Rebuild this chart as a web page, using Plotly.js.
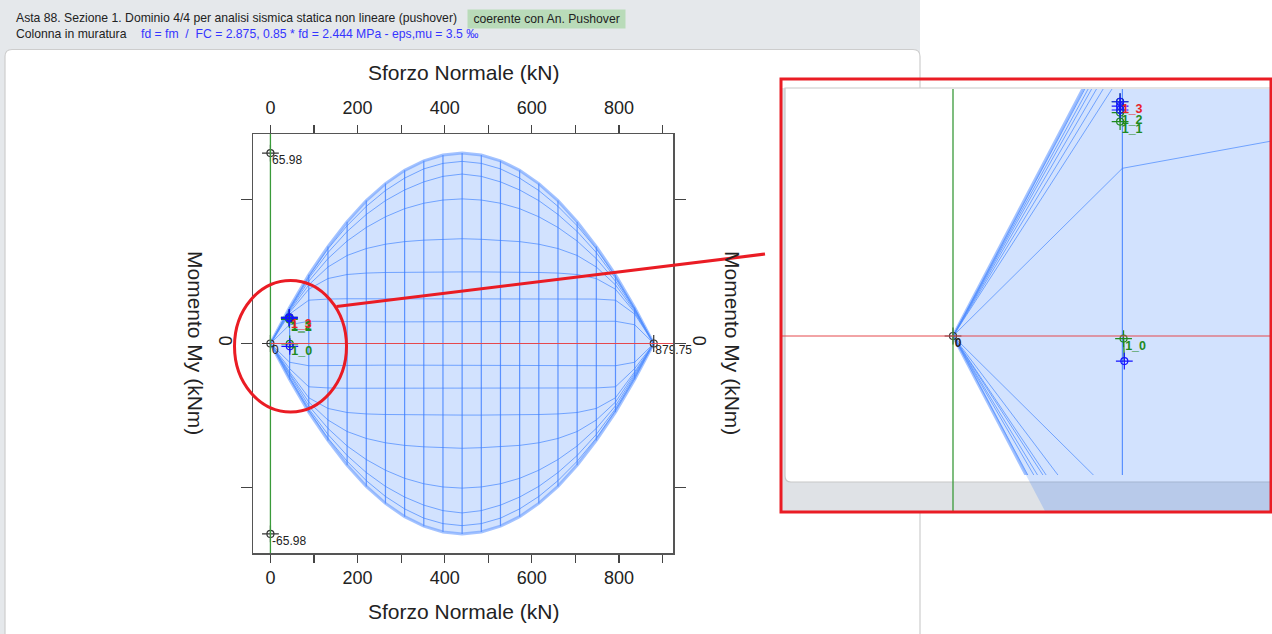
<!DOCTYPE html>
<html><head><meta charset="utf-8">
<script src="https://cdn.plot.ly/plotly-3.0.1.min.js"></script>
<style>html,body{margin:0;padding:0;background:#fff;overflow:hidden}#chart{width:1272px;height:634px}</style>
</head><body><div id="chart"></div>
<script>
// ---------------- DATA ----------------
const Nstations = [0,44,88,132,176,220,264,308,352,396,440,484,528,572,616,660,704,748,792,836,879.75];
// upper curves of the domain (My, kNm) at each station
const myUp1 = [0,12.5,23.8,33.6,42.2,49.5,55.4,60.0,63.3,65.3,65.98,65.3,63.3,60.0,55.4,49.5,42.2,33.6,23.8,12.5,0];
const myUp2 = [0,12.3,23.3,32.8,40.8,47.5,53.0,57.3,60.5,62.4,63.1,62.4,60.5,57.3,53.0,47.5,40.8,32.8,23.3,12.3,0];
const myUp3 = [0,12.0,22.6,31.5,38.8,44.7,49.5,53.2,56.0,57.9,58.7,57.9,56.0,53.2,49.5,44.7,38.8,31.5,22.6,12.0,0];
const myUp4 = [0,11.7,21.6,29.4,35.5,40.2,43.9,46.7,48.6,49.7,50.1,49.7,48.6,46.7,43.9,40.2,35.5,29.4,21.6,11.7,0];
const myUp5 = [0,11.3,20.3,26.5,30.5,32.9,34.4,35.3,35.8,36.1,36.3,36.1,35.8,35.3,34.4,32.9,30.5,26.5,20.3,11.3,0];
const myUp6 = [0,10.8,18.8,22.5,23.9,24.4,24.6,24.7,24.8,24.8,24.8,24.8,24.8,24.7,24.6,24.4,23.9,22.5,18.8,10.8,0];
const myUp7 = [0,10.2,15.0,15.4,15.5,15.5,15.5,15.5,15.5,15.5,15.5,15.5,15.5,15.5,15.5,15.5,15.5,15.4,15.0,10.2,0];
const myUp8 = [0,6.5,7.7,7.6,7.5,7.5,7.5,7.5,7.5,7.5,7.5,7.5,7.5,7.5,7.5,7.5,7.5,7.6,7.7,6.5,0];
// lower curves
const myLo1 = [0,-12.5,-23.8,-33.6,-42.2,-49.5,-55.4,-60.0,-63.3,-65.3,-65.98,-65.3,-63.3,-60.0,-55.4,-49.5,-42.2,-33.6,-23.8,-12.5,0];
const myLo2 = [0,-12.2,-23.3,-32.8,-40.8,-47.5,-53.0,-57.3,-60.5,-62.4,-63.1,-62.4,-60.5,-57.3,-53.0,-47.5,-40.8,-32.8,-23.3,-12.2,0];
const myLo3 = [0,-11.6,-22.6,-31.5,-38.8,-44.7,-49.5,-53.2,-56.0,-57.9,-58.7,-57.9,-56.0,-53.2,-49.5,-44.7,-38.8,-31.5,-22.6,-11.6,0];
const myLo4 = [0,-11.0,-21.6,-29.4,-35.5,-40.2,-43.9,-46.7,-48.6,-49.7,-50.1,-49.7,-48.6,-46.7,-43.9,-40.2,-35.5,-29.4,-21.6,-11.0,0];
const myLo5 = [0,-10.4,-20.3,-26.5,-30.5,-32.9,-34.4,-35.3,-35.8,-36.1,-36.3,-36.1,-35.8,-35.3,-34.4,-32.9,-30.5,-26.5,-20.3,-10.4,0];
const myLo6 = [0,-9.8,-18.8,-22.5,-23.9,-24.4,-24.6,-24.7,-24.8,-24.8,-24.8,-24.8,-24.8,-24.7,-24.6,-24.4,-23.9,-22.5,-18.8,-9.8,0];
const myLo7 = [0,-8.7,-15.0,-15.4,-15.5,-15.5,-15.5,-15.5,-15.5,-15.5,-15.5,-15.5,-15.5,-15.5,-15.5,-15.5,-15.5,-15.4,-15.0,-8.7,0];
const myLo8 = [0,-6.5,-7.7,-7.6,-7.5,-7.5,-7.5,-7.5,-7.5,-7.5,-7.5,-7.5,-7.5,-7.5,-7.5,-7.5,-7.5,-7.6,-7.7,-6.5,0];
// reference points
const refNames = ['65.98','-65.98','0','879.75'];
const refN = [0,0,0,879.75];
const refM = [65.98,-65.98,0,0];
// check points (green = capacity, blue = demand)
const chkNames = ['1_0','1_1','1_2','1_3'];
const chkLabelColors = ['#1f8a1f','#1f8a1f','#1f8a1f','#e8222a'];
const chkN = [44.3,43.4,43.4,43.4];
const chkM = [-0.1,8.31,8.66,9.08];
const demN = [44.5,43.4,43.4,43.4];
const demM = [-0.97,8.76,8.91,9.08];
// axis ticks
const xTickVals = [0,100,200,300,400,500,600,700,800,900];
const xTickText = ['0','','200','','400','','600','','800',''];
const yTickVals = [-50,0,50];
const yTickText = ['','0',''];

// ---------------- LAYOUT HELPERS ----------------
const W=1272,H=634;
const fx=p=>p/W, fy=p=>1-p/H;
const FONT='Liberation Sans, Arial, Helvetica, sans-serif';
const upCurves=[myUp2,myUp3,myUp4,myUp5,myUp6,myUp7,myUp8];
const loCurves=[myLo2,myLo3,myLo4,myLo5,myLo6,myLo7,myLo8];

function meshLines(xa,ya,lw){
  const xs=[],ys=[];
  upCurves.concat(loCurves).forEach(c=>{Nstations.forEach((n,i)=>{xs.push(n);ys.push(c[i]);});xs.push(null);ys.push(null);});
  const vx=[],vy=[];
  for(let i=1;i<Nstations.length-1;i++){vx.push(Nstations[i],Nstations[i],null);vy.push(myUp1[i],myLo1[i],null);}
  return [
    {x:xs,y:ys,xaxis:xa,yaxis:ya,mode:'lines',line:{color:'rgba(70,135,255,0.7)',width:lw},hoverinfo:'skip',showlegend:false},
    {x:vx,y:vy,xaxis:xa,yaxis:ya,mode:'lines',line:{color:'rgba(60,125,255,0.8)',width:lw*1.2},hoverinfo:'skip',showlegend:false},
    {x:Nstations.concat([null]).concat(Nstations),y:myUp1.concat([null]).concat(myLo1),xaxis:xa,yaxis:ya,mode:'lines',line:{color:'rgba(90,145,255,0.55)',width:3},hoverinfo:'skip',showlegend:false}
  ];
}
function meshFill(xa,ya){
  return {x:Nstations.concat(Nstations.slice().reverse()),y:myUp1.concat(myLo1.slice().reverse()),xaxis:xa,yaxis:ya,
    mode:'lines',fill:'toself',fillcolor:'rgba(30,110,250,0.2)',line:{width:0,color:'rgba(0,0,0,0)'},hoverinfo:'skip',showlegend:false};
}
function crossMarkers(xa,ya,xs,ys,color){
  return [
    {x:xs,y:ys,xaxis:xa,yaxis:ya,mode:'markers',cliponaxis:false,marker:{symbol:'cross-thin-open',size:12,color:color,line:{color:color,width:1.2}},hoverinfo:'skip',showlegend:false},
    {x:xs,y:ys,xaxis:xa,yaxis:ya,mode:'markers',cliponaxis:false,marker:{symbol:'circle-open',size:7,color:color,line:{color:color,width:1.2}},hoverinfo:'skip',showlegend:false}
  ];
}
function labels(xa,ya,xs,ys,texts,colors,bold,size){
  return {x:xs,y:ys,xaxis:xa,yaxis:ya,mode:'markers+text',cliponaxis:false,
    text:texts.map(t=>bold?'<b>'+t+'</b>':t),textposition:'bottom right',
    textfont:{family:FONT,size:size,color:colors},marker:{size:1,opacity:0},hoverinfo:'skip',showlegend:false};
}
function pointSet(xa,ya){
  const lx=[],ly=[];
  for(let i=0;i<chkN.length;i++){lx.push(chkN[i],demN[i],null);ly.push(chkM[i],demM[i],null);}
  return [
    {x:lx,y:ly,xaxis:xa,yaxis:ya,mode:'lines',line:{color:'#1f8a1f',width:1.3},hoverinfo:'skip',showlegend:false},
    ...crossMarkers(xa,ya,chkN,chkM,'#1f8a1f'),
    ...crossMarkers(xa,ya,demN,demM,'#1515ff'),
    labels(xa,ya,chkN,chkM,chkNames,chkLabelColors,true,12.5)
  ];
}

const traces=[];
// main
traces.push(meshFill('x','y'));
traces.push(...meshLines('x','y',1));
traces.push(...crossMarkers('x','y',refN,refM,'#333'));
traces.push(labels('x','y',refN,refM,refNames,'#222',false,12));
traces.push(...pointSet('x','y'));
// inset
traces.push(meshFill('x3','y3'));
traces.push(...meshLines('x4','y4',1));
traces.push(...crossMarkers('x4','y4',[refN[2]],[refM[2]],'#333'));
traces.push(labels('x4','y4',[refN[2]],[refM[2]],[refNames[2]],'#222',true,12));
traces.push(...pointSet('x4','y4'));

// scales
const mainX=[-40,924], mainY=[-72.58,72.58];
const inOx=953, inOy=336, inSx=3.85, inSy=25.8;
const inX=[(782-inOx)/inSx,(1272-inOx)/inSx];
const inY3=[(inOy-511)/inSy,(inOy-89)/inSy];
const inY4=[(inOy-475)/inSy,(inOy-89)/inSy];

const axCommon={showgrid:false,zeroline:false,showline:true,linecolor:'#555',linewidth:1.5,ticks:'outside',tickcolor:'#444',tickwidth:1.2,
  tickfont:{family:FONT,size:18,color:'#222'},fixedrange:true};
const hidden={visible:false,fixedrange:true,showgrid:false,zeroline:false};

function roundRect(x0,y0,x1,y1,r){
  const X=v=>fx(v),Y=v=>fy(v);
  return `M ${X(x0+r)} ${Y(y0)} L ${X(x1-r)} ${Y(y0)} Q ${X(x1)} ${Y(y0)} ${X(x1)} ${Y(y0+r)} L ${X(x1)} ${Y(y1)} L ${X(x0)} ${Y(y1)} L ${X(x0)} ${Y(y0+r)} Q ${X(x0)} ${Y(y0)} ${X(x0+r)} ${Y(y0)} Z`;
}
function insetPanel(x0,y0,x1,y1,r){
  const X=v=>fx(v),Y=v=>fy(v);
  return `M ${X(x0)} ${Y(y0)} L ${X(x1)} ${Y(y0)} L ${X(x1)} ${Y(y1)} L ${X(x0+r)} ${Y(y1)} Q ${X(x0)} ${Y(y1)} ${X(x0)} ${Y(y1-r)} Z`;
}

const shapes=[
  {type:'rect',xref:'paper',yref:'paper',x0:0,x1:fx(920),y0:fy(634),y1:1,fillcolor:'#e5e8eb',line:{width:0},layer:'below'},
  {type:'path',xref:'paper',yref:'paper',path:roundRect(5,49.5,920,660,7),fillcolor:'#ffffff',line:{color:'#cdcdcd',width:1.2},layer:'below'},
  // inset background
  {type:'rect',xref:'paper',yref:'paper',x0:fx(781),x1:1,y0:fy(512),y1:fy(79),fillcolor:'#dfe2e6',line:{width:0},layer:'below'},
  {type:'rect',xref:'paper',yref:'paper',x0:fx(781),x1:1,y0:fy(88),y1:fy(79),fillcolor:'#ffffff',line:{width:0},layer:'below'},
  {type:'path',xref:'paper',yref:'paper',path:insetPanel(785,88,1290,482,6),fillcolor:'#ffffff',line:{color:'#c8c8c8',width:1.2},layer:'below'},
  {type:'line',xref:'paper',yref:'paper',x0:fx(920),x1:fx(920),y0:fy(88),y1:fy(79),line:{color:'#cdcdcd',width:1.2},layer:'below'},
  // zero lines main
  {type:'line',xref:'x',yref:'y domain',x0:0,x1:0,y0:0,y1:1,line:{color:'#3a9a3a',width:1.3}},
  {type:'line',xref:'x',yref:'y',x0:0,x1:mainX[1],y0:0,y1:0,line:{color:'#e5484d',width:1}},
  // zero lines inset
  {type:'line',xref:'x3',yref:'y3 domain',x0:0,x1:0,y0:0,y1:1,line:{color:'#3a9a3a',width:1.3}},
  {type:'line',xref:'x3 domain',yref:'y3',x0:0,x1:1,y0:0,y1:0,line:{color:'#e5484d',width:1}},
  // red highlight
  {type:'circle',xref:'paper',yref:'paper',x0:fx(234.5),x1:fx(346.5),y0:fy(412),y1:fy(280.5),line:{color:'#ea1c24',width:3}},
  {type:'line',xref:'paper',yref:'paper',x0:fx(336.5),y0:fy(306.5),x1:fx(765),y1:fy(254),line:{color:'#ea1c24',width:3}},
  {type:'rect',xref:'paper',yref:'paper',x0:fx(781),x1:fx(1271),y0:fy(512),y1:fy(79),line:{color:'#ea1c24',width:3}}
];

const annotations=[
  {xref:'paper',yref:'paper',x:fx(14),y:fy(18),xanchor:'left',yanchor:'middle',showarrow:false,
   text:'Asta 88. Sezione 1. Dominio 4/4 per analisi sismica statica non lineare (pushover)',font:{family:FONT,size:12.2,color:'#222'}},
  {xref:'paper',yref:'paper',x:fx(467),y:fy(19),xanchor:'left',yanchor:'middle',showarrow:false,bgcolor:'#b9dbb9',borderpad:2,
   text:' coerente con An. Pushover ',font:{family:FONT,size:12.2,color:'#222'}},
  {xref:'paper',yref:'paper',x:fx(14),y:fy(34),xanchor:'left',yanchor:'middle',showarrow:false,
   text:'Colonna in muratura',font:{family:FONT,size:12.2,color:'#222'}},
  {xref:'paper',yref:'paper',x:fx(139),y:fy(34),xanchor:'left',yanchor:'middle',showarrow:false,
   text:'fd = fm  /  FC = 2.875, 0.85 * fd = 2.444 MPa - eps,mu = 3.5 ‰',font:{family:FONT,size:12.2,color:'#3535ff'}},
  {xref:'paper',yref:'paper',x:fx(463),y:fy(73),xanchor:'center',yanchor:'middle',showarrow:false,
   text:'Sforzo Normale (kN)',font:{family:FONT,size:21,color:'#222'}},
  {xref:'paper',yref:'paper',x:fx(463),y:fy(611),xanchor:'center',yanchor:'middle',showarrow:false,
   text:'Sforzo Normale (kN)',font:{family:FONT,size:21,color:'#222'}},
  {xref:'paper',yref:'paper',x:fx(196),y:fy(343),xanchor:'center',yanchor:'middle',showarrow:false,textangle:90,
   text:'Momento My (kNm)',font:{family:FONT,size:21,color:'#222'}},
  {xref:'paper',yref:'paper',x:fx(733),y:fy(343),xanchor:'center',yanchor:'middle',showarrow:false,textangle:90,
   text:'Momento My (kNm)',font:{family:FONT,size:21,color:'#222'}}
];

const layout={
  width:W,height:H,margin:{l:0,r:0,t:0,b:0},paper_bgcolor:'#ffffff',plot_bgcolor:'rgba(0,0,0,0)',showlegend:false,
  xaxis:Object.assign({},axCommon,{domain:[fx(253),fx(673)],range:mainX,tickvals:xTickVals,ticktext:xTickText,ticklen:8,anchor:'y'}),
  xaxis2:Object.assign({},axCommon,{domain:[fx(253),fx(673)],range:mainX,tickvals:xTickVals,ticktext:xTickText,ticklen:8,ticklabelstandoff:3,overlaying:'x',side:'top',anchor:'y'}),
  yaxis:Object.assign({},axCommon,{domain:[fy(553),fy(134)],range:mainY,tickvals:yTickVals,ticktext:yTickText,ticklen:11,tickangle:90,anchor:'x'}),
  yaxis2:Object.assign({},axCommon,{domain:[fy(553),fy(134)],range:mainY,tickvals:yTickVals,ticktext:yTickText,ticklen:11,tickangle:90,overlaying:'y',side:'right',anchor:'x'}),
  xaxis3:Object.assign({},hidden,{domain:[fx(782),1],range:inX,anchor:'y3'}),
  yaxis3:Object.assign({},hidden,{domain:[fy(511),fy(89)],range:inY3,anchor:'x3'}),
  xaxis4:Object.assign({},hidden,{domain:[fx(782),1],range:inX,anchor:'y4'}),
  yaxis4:Object.assign({},hidden,{domain:[fy(475),fy(89)],range:inY4,anchor:'x4'}),
  shapes:shapes,annotations:annotations
};
traces.push({x:[0],y:[0],xaxis:'x2',yaxis:'y',mode:'markers',marker:{opacity:0},hoverinfo:'skip',showlegend:false});
traces.push({x:[0],y:[0],xaxis:'x',yaxis:'y2',mode:'markers',marker:{opacity:0},hoverinfo:'skip',showlegend:false});

Plotly.newPlot('chart',traces,layout,{staticPlot:true,displayModeBar:false});
</script></body></html>
